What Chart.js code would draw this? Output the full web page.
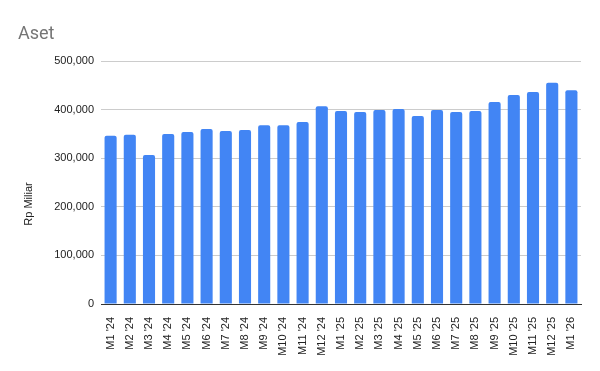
<!DOCTYPE html>
<html>
<head>
<meta charset="utf-8">
<script src="https://cdn.jsdelivr.net/npm/chart.js@4"></script>
<style>
  html, body { margin:0; padding:0; background:#fff; }
  #wrap { width:600px; height:371px; }
</style>
</head>
<body>
<div id="wrap"><canvas id="grafico" width="600" height="371"></canvas></div>
<script>
// ------------------- DADOS -------------------
const bulan = ["M1 '24","M2 '24","M3 '24","M4 '24","M5 '24","M6 '24","M7 '24","M8 '24","M9 '24","M10 '24","M11 '24","M12 '24",
               "M1 '25","M2 '25","M3 '25","M4 '25","M5 '25","M6 '25","M7 '25","M8 '25","M9 '25","M10 '25","M11 '25","M12 '25","M1 '26"];
const aset = [346000,348000,306500,350000,354000,360000,356000,358000,368000,368000,374500,407000,
              397000,395000,399000,401000,387000,399000,395000,397000,415500,430000,436000,455000,440000];
const yTicks = [0,100000,200000,300000,400000,500000];

// titulo e nome do eixo desenhados a mao
const judul = {
  id:'judul',
  afterDraw(chart){
    const ctx = chart.ctx;
    ctx.save();
    ctx.font = '18px Roboto, Arial, sans-serif';
    ctx.fillStyle = '#757575';
    ctx.textBaseline = 'alphabetic';
    ctx.fillText('Aset', 18, 39);

    ctx.font = '11px Arial, Liberation Sans, sans-serif';
    ctx.fillStyle = '#222';
    ctx.translate(29, 204);
    ctx.rotate(-Math.PI/2);
    ctx.textAlign = 'center';
    ctx.textBaseline = 'middle';
    ctx.fillText('Rp Miliar', 0, 0);
    ctx.restore();
  }
};

new Chart(document.getElementById('grafico'), {
  type:'bar',
  data:{
    labels:bulan,
    datasets:[{ data:aset, backgroundColor:'#4285f4', borderRadius:2, borderSkipped:'bottom',
                categoryPercentage:1, barPercentage:0.63 }]
  },
  options:{
    responsive:false,
    animation:false,
    layout:{ padding:{ top:61, right:19, left:0, bottom:0 } },
    plugins:{ legend:{ display:false }, tooltip:{ enabled:false } },
    scales:{
      x:{
        grid:{ display:false },
        border:{ display:true, color:'#333', width:1 },
        ticks:{ minRotation:90, maxRotation:90, autoSkip:false, padding:5,
                color:'#222', font:{ family:'Arial, Liberation Sans, sans-serif', size:11 } },
        afterFit(s){ s.height = 67; }
      },
      y:{
        min:0, max:500000,
        afterBuildTicks(s){ s.ticks = yTicks.map(v=>({value:v})); },
        grid:{ color:'#cccccc', drawTicks:false },
        border:{ display:false },
        ticks:{ padding:7, color:'#222',
                font:{ family:'Arial, Liberation Sans, sans-serif', size:11 },
                callback:v => v.toLocaleString('en-US') },
        afterFit(s){ s.width = 101; }
      }
    }
  },
  plugins:[judul]
});
</script>
</body>
</html>
